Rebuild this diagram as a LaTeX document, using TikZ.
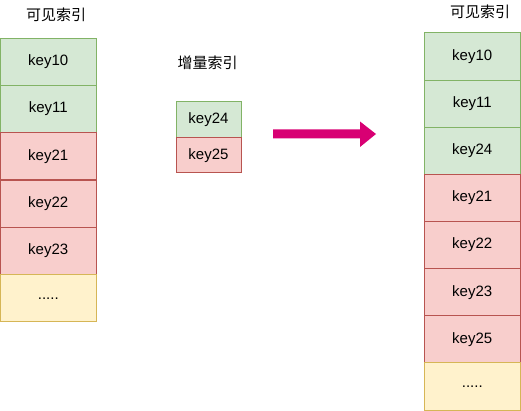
\documentclass[tikz,border=0pt]{standalone}
\usepackage{fontspec}
\setmainfont{Liberation Sans}
\newfontfamily\cjk{Noto Sans CJK SC}
\definecolor{gfill}{HTML}{D5E8D4}
\definecolor{gline}{HTML}{82B366}
\definecolor{rfill}{HTML}{F8CECC}
\definecolor{rline}{HTML}{B85450}
\definecolor{yfill}{HTML}{FFF2CC}
\definecolor{yline}{HTML}{D6B656}
\definecolor{mag}{HTML}{D80073}
\tikzset{
  cell/.style={rectangle, inner sep=0pt, line width=1pt, font=\fontsize{15}{18}\selectfont},
  gcell/.style={cell, fill=gfill, draw=gline},
  rcell/.style={cell, fill=rfill, draw=rline},
  ycell/.style={cell, fill=yfill, draw=yline},
  colL/.style={minimum width=96.5pt, minimum height=47.33pt},
  colR/.style={minimum width=96.5pt, minimum height=47.12pt},
  colM/.style={minimum width=65pt, minimum height=35.5pt},
  title/.style={font=\cjk\fontsize{15}{18}\selectfont, inner sep=0pt}
}
\begin{document}
\begin{tikzpicture}[x=1pt,y=-1pt]
\useasboundingbox (0,0) rectangle (521,411);
% left column
\node[title] (tL) at (56,15) {可见索引};
\node[gcell,colL] (l1) at (48.25,61.67) {key10};
\node[gcell,colL] (l2) at (48.25,109.0) {key11};
\node[rcell,colL] (l3) at (48.25,156.33) {key21};
\node[rcell,colL] (l4) at (48.25,203.67) {key22};
\node[rcell,colL] (l5) at (48.25,251.0) {key23};
\node[ycell,colL] (l6) at (48.25,298.33) {.....};
% middle
\node[title] (tM) at (207.5,63) {增量索引};
\node[gcell,colM] (m1) at (208.5,119.75) {key24};
\node[rcell,colM] (m2) at (208.5,155.25) {key25};
% arrow
\fill[mag] (273,129.5) -- (360,129.5) -- (360,121.5) -- (376,134) -- (360,147) -- (360,138.5) -- (273,138.5) -- cycle;
% right column
\node[title] (tR) at (480,12) {可见索引};
\node[gcell,colR] (r1) at (472.25,56.56) {key10};
\node[gcell,colR] (r2) at (472.25,103.69) {key11};
\node[gcell,colR] (r3) at (472.25,150.81) {key24};
\node[rcell,colR] (r4) at (472.25,197.94) {key21};
\node[rcell,colR] (r5) at (472.25,245.06) {key22};
\node[rcell,colR] (r6) at (472.25,292.19) {key23};
\node[rcell,colR] (r7) at (472.25,339.31) {key25};
\node[ycell,colR] (r8) at (472.25,386.44) {.....};
\end{tikzpicture}
\end{document}
